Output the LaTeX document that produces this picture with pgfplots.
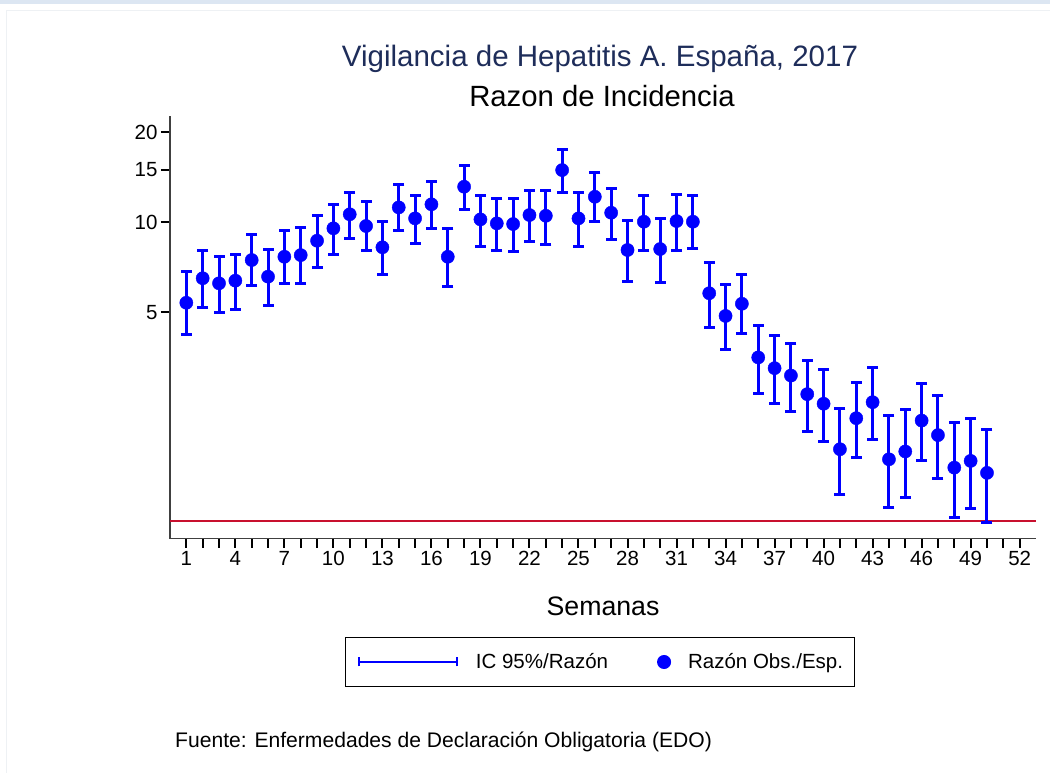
\documentclass[border=0pt]{standalone}
\usepackage{pgfplots}
\pgfplotsset{compat=1.18}
\usepackage{fontspec}
\setmainfont{Liberation Sans}
\definecolor{titlenavy}{RGB}{30,45,90}
\definecolor{refred}{RGB}{200,16,46}
\definecolor{bandblue}{RGB}{220,230,242}
\definecolor{faintgray}{RGB}{238,241,244}
\begin{document}
\begin{tikzpicture}[x=1pt,y=1pt]
\path[use as bounding box] (0,0) rectangle (1050,773);
\fill[white] (0,0) rectangle (1050,773);
\fill[bandblue] (0,769) rectangle (1050,773);
\draw[faintgray,line width=1pt] (6,0) -- (6,762) -- (1050,762);
\begin{axis}[
  at={(170pt,234.3pt)}, anchor=south west,
  scale only axis, width=866pt, height=422.7pt,
  xmin=0, xmax=53, ymode=log, ymin=0.873, ymax=22.7,
  axis x line*=bottom, axis y line*=left,
  axis line style={draw=black!75, line width=1.5pt},
  xtick={1,4,...,52}, minor x tick num=2,
  ytick={5,10,15,20}, yticklabels={5,10,15,20},
  tick align=outside, major tick length=9pt, minor tick length=9pt,
  tick style={black, line width=2pt},
  /pgf/number format/assume math mode=true,
  ticklabel style={font=\fontsize{20.5}{24}\selectfont},
  unbounded coords=jump,
  legend columns=2,
  legend style={at={(axis description cs:0.4965,-0.2917)}, anchor=center,
    draw=black, line width=1pt, inner xsep=11pt, inner ysep=16.5pt,
    nodes={inner sep=0pt},
    font=\fontsize{20.5}{24}\selectfont,
    /tikz/every odd column/.append style={column sep=17pt},
    /tikz/every even column/.append style={column sep=49pt}},
]
\addplot[refred, line width=2pt, forget plot] coordinates {(0,1) (53,1)};
\addplot[blue, line width=3pt, mark=-, mark size=5.5pt, mark options={line width=3pt},
  legend image code/.code={
    \draw[blue,line width=2pt] (0pt,0pt)--(100pt,0pt);
    \draw[blue,line width=2pt] (1pt,-4.5pt)--(1pt,4.5pt) (99pt,-4.5pt)--(99pt,4.5pt);}]
table[row sep=\\] {
x y\\
1 4.20\\ 1 6.83\\ 1 nan\\
2 5.18\\ 2 8.08\\ 2 nan\\
3 5.00\\ 3 7.71\\ 3 nan\\
4 5.12\\ 4 7.82\\ 4 nan\\
5 6.17\\ 5 9.12\\ 5 nan\\
6 5.26\\ 6 8.14\\ 6 nan\\
7 6.22\\ 7 9.37\\ 7 nan\\
8 6.22\\ 8 9.59\\ 8 nan\\
9 7.05\\ 9 10.58\\ 9 nan\\
10 7.82\\ 10 11.51\\ 10 nan\\
11 8.84\\ 11 12.63\\ 11 nan\\
12 8.04\\ 12 11.78\\ 12 nan\\
13 6.70\\ 13 10.05\\ 13 nan\\
14 9.42\\ 14 13.40\\ 14 nan\\
15 8.51\\ 15 12.34\\ 15 nan\\
16 9.52\\ 16 13.67\\ 16 nan\\
17 6.12\\ 17 9.52\\ 17 nan\\
18 11.05\\ 18 15.46\\ 18 nan\\
19 8.33\\ 19 12.34\\ 19 nan\\
20 8.08\\ 20 12.03\\ 20 nan\\
21 7.97\\ 21 12.03\\ 21 nan\\
22 8.66\\ 22 12.82\\ 22 nan\\
23 8.46\\ 23 12.82\\ 23 nan\\
24 12.56\\ 24 17.55\\ 24 nan\\
25 8.33\\ 25 12.60\\ 25 nan\\
26 10.10\\ 26 14.70\\ 26 nan\\
27 8.79\\ 27 13.02\\ 27 nan\\
28 6.33\\ 28 10.12\\ 28 nan\\
29 8.02\\ 29 12.34\\ 29 nan\\
30 6.30\\ 30 10.31\\ 30 nan\\
31 8.08\\ 31 12.43\\ 31 nan\\
32 8.19\\ 32 12.27\\ 32 nan\\
33 4.45\\ 33 7.35\\ 33 nan\\
34 3.75\\ 34 6.20\\ 34 nan\\
35 4.24\\ 35 6.70\\ 35 nan\\
36 2.67\\ 36 4.53\\ 36 nan\\
37 2.48\\ 37 4.19\\ 37 nan\\
38 2.33\\ 38 3.93\\ 38 nan\\
39 2.00\\ 39 3.44\\ 39 nan\\
40 1.85\\ 40 3.21\\ 40 nan\\
41 1.23\\ 41 2.39\\ 41 nan\\
42 1.63\\ 42 2.92\\ 42 nan\\
43 1.88\\ 43 3.26\\ 43 nan\\
44 1.11\\ 44 2.25\\ 44 nan\\
45 1.20\\ 45 2.37\\ 45 nan\\
46 1.59\\ 46 2.88\\ 46 nan\\
47 1.39\\ 47 2.63\\ 47 nan\\
48 1.03\\ 48 2.14\\ 48 nan\\
49 1.10\\ 49 2.21\\ 49 nan\\
50 0.99\\ 50 2.02\\ 50 nan\\
};
\addlegendentry{IC 95\%/Razón}
\addplot[only marks, mark=*, mark size=6.6pt, blue, mark options={draw=blue, fill=blue},
  legend image code/.code={\fill[blue] (0pt,0pt) circle (6.5pt);}]
table[row sep=\\] {
x y\\
1 5.38\\ 2 6.50\\ 3 6.25\\ 4 6.38\\ 5 7.48\\ 6 6.58\\ 7 7.67\\ 8 7.77\\ 9 8.68\\ 10 9.55\\
11 10.64\\ 12 9.72\\ 13 8.25\\ 14 11.22\\ 15 10.31\\ 16 11.49\\ 17 7.67\\ 18 13.16\\ 19 10.23\\ 20 9.92\\
21 9.87\\ 22 10.58\\ 23 10.52\\ 24 14.96\\ 25 10.31\\ 26 12.18\\ 27 10.77\\ 28 8.08\\ 29 10.05\\ 30 8.14\\
31 10.10\\ 32 10.05\\ 33 5.79\\ 34 4.86\\ 35 5.34\\ 36 3.53\\ 37 3.25\\ 38 3.07\\ 39 2.66\\ 40 2.47\\
41 1.74\\ 42 2.21\\ 43 2.50\\ 44 1.61\\ 45 1.71\\ 46 2.17\\ 47 1.94\\ 48 1.51\\ 49 1.59\\ 50 1.45\\
};
\addlegendentry{Razón Obs./Esp.\hspace{18pt}}
\end{axis}
\node[anchor=base, text=titlenavy, font=\fontsize{29.5}{34}\selectfont] at (600,706) {Vigilancia de Hepatitis A. España, 2017};
\node[anchor=base, font=\fontsize{29.3}{34}\selectfont] at (602,666) {Razon de Incidencia};
\node[anchor=base, font=\fontsize{26.7}{30}\selectfont] at (603,157) {Semanas};
\node[anchor=base west, inner sep=0pt, font=\fontsize{21.1}{25}\selectfont] at (175,25) {Fuente: Enfermedades de Declaración Obligatoria (EDO)};
\end{tikzpicture}
\end{document}
